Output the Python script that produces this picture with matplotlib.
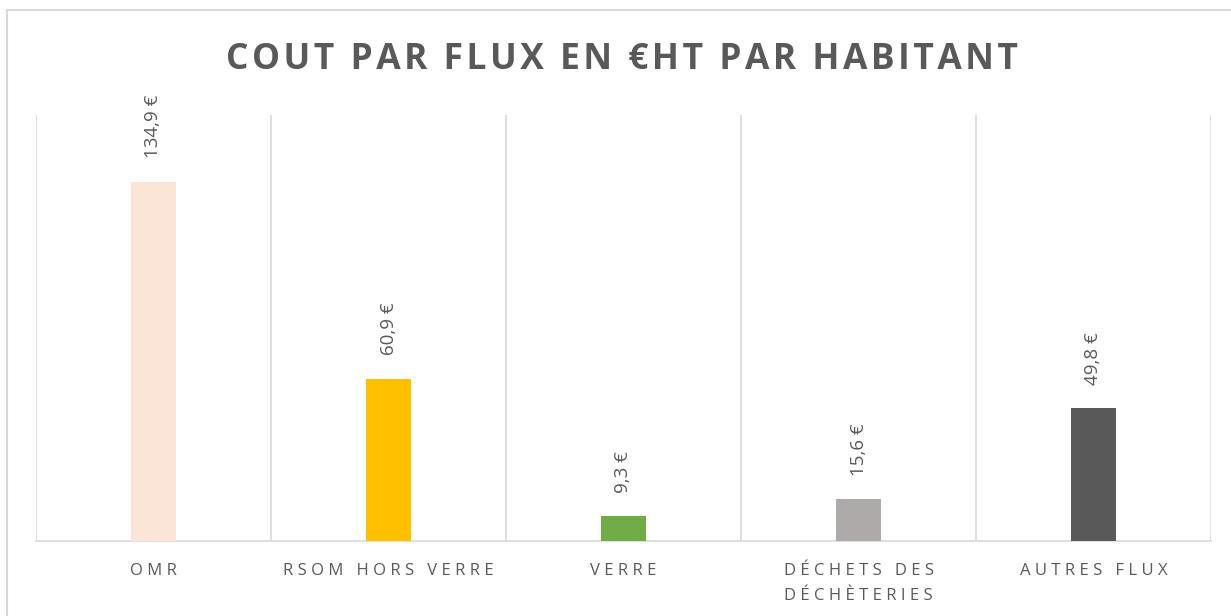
import matplotlib
matplotlib.use('Agg')
import matplotlib.pyplot as plt
from matplotlib.patches import Rectangle

categories = ['OMR', 'RSOM HORS VERRE', 'VERRE', 'DÉCHETS DES\nDÉCHÈTERIES', 'AUTRES FLUX']
values = [134.9, 60.9, 9.3, 15.6, 49.8]
value_labels = ['134,9 €', '60,9 €', '9,3 €', '15,6 €', '49,8 €']
colors = ['#FBE5D6', '#FFC000', '#70AD47', '#AEAAAA', '#595959']
title = 'COUT PAR FLUX EN €HT PAR HABITANT'

TEXT = '#595959'
GRID = '#D9D9D9'
FONT = ['Open Sans', 'DejaVu Sans']


def spaced(s, sep='\u200a'):
    # fake letter spacing, line by line
    return '\n'.join(sep.join(line) for line in s.split('\n'))


fig = plt.figure(figsize=(12.31, 6.16), dpi=100)
fig.patches.append(Rectangle((7 / 1231, -0.05), 1.1, 0.05 + 1 - 10 / 616,
                             transform=fig.transFigure, fill=False,
                             edgecolor=GRID, linewidth=1.5))

ax = fig.add_axes([36 / 1231, 1 - 541 / 616, 1175 / 1231, 426 / 616])
x = list(range(len(categories)))
ax.bar(x, values, width=0.19, color=colors, zorder=3)

for i, (v, lab) in enumerate(zip(values, value_labels)):
    ax.annotate(lab, (i, v), xytext=(0, 17), textcoords='offset points',
                rotation=90, ha='center', va='bottom', color=TEXT,
                fontsize=13.5, family=FONT)

for b in [i - 0.5 for i in range(len(categories) + 1)]:
    ax.axvline(b, color=GRID, linewidth=1.2, zorder=1)

ax.set_xlim(-0.5, len(categories) - 0.5)
ax.set_ylim(0, 160)
ax.set_yticks([])
ax.set_xticks(x)
ax.set_xticklabels([spaced(c, ' ') for c in categories], color=TEXT,
                   fontsize=12, family=FONT, linespacing=1.7)
ax.tick_params(axis='x', length=0, pad=16)
for side in ['top', 'left', 'right']:
    ax.spines[side].set_visible(False)
ax.spines['bottom'].set_color(GRID)
ax.spines['bottom'].set_linewidth(1.2)

fig.text(622 / 1231, 1 - 60 / 616, spaced(title), ha='center', va='center',
         fontsize=25.5, fontweight='bold', color=TEXT, family=FONT)

plt.savefig('out.png', dpi=100)
